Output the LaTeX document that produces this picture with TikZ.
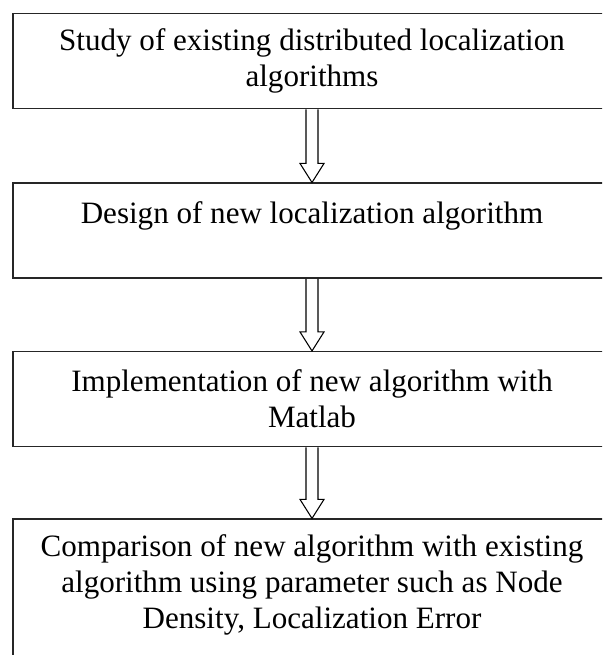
\documentclass[tikz,border=0pt]{standalone}
\usepackage{fontspec}
\setmainfont{Liberation Serif}
\usetikzlibrary{calc}

\begin{document}
\begin{tikzpicture}[x=0.75pt,y=-0.75pt,stage/.style={draw=black!85,line width=1.1pt,minimum width=448.5pt,minimum height=71.25pt,inner sep=0pt,align=center,anchor=north,font=\fontsize{23.3}{27}\selectfont},hollow/.style={line width=0.8pt,to path={($ (\tikztostart) + (-6, 0) $) -- ($ (\tikztotarget) + (-6, -19) $) -- ($ (\tikztotarget) + (-12, -19) $) -- (\tikztotarget) -- ($ (\tikztotarget) + (12, -19) $) -- ($ (\tikztotarget) + (6, -19) $) -- ($ (\tikztostart) + (6, 0) $)}}]
  \useasboundingbox (0,0) rectangle (602,655);
  \clip (0,0) rectangle (602,655);
  \node[stage] (study) at (312,13) {Study of existing distributed localization\\algorithms};
  \node[stage] (design) at ($ (study.south) + (0, 73) $) {Design of new localization algorithm\\~};
  \node[stage] (matlab) at ($ (design.south) + (0, 72) $) {Implementation of new algorithm with\\Matlab};
  \node[stage,minimum height=105pt,text depth=11pt] (compare) at ($ (matlab.south) + (0, 71) $) {Comparison of new algorithm with existing\\algorithm using parameter such as Node\\Density, Localization Error};
  \draw[hollow] (study.south) to (design.north);
  \draw[hollow] (design.south) to (matlab.north);
  \draw[hollow] (matlab.south) to (compare.north);
\end{tikzpicture}
\end{document}
